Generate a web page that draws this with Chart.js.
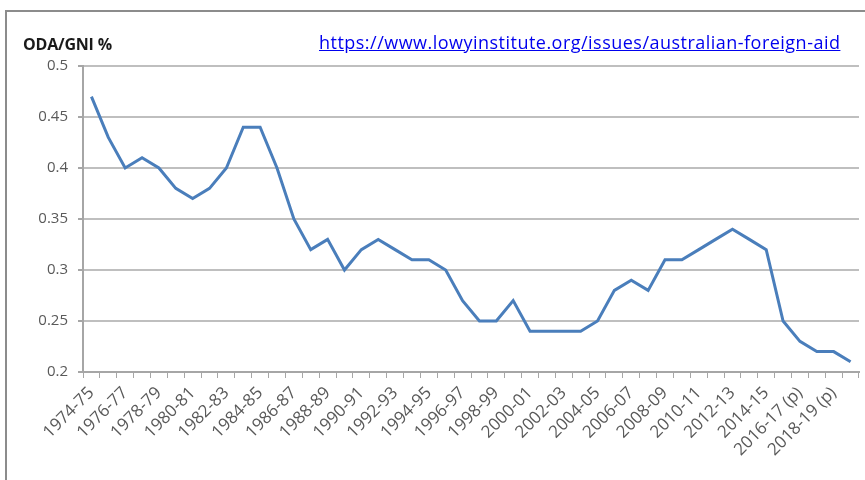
<!DOCTYPE html>
<html>
<head>
<meta charset="utf-8">
<script src="https://cdn.jsdelivr.net/npm/chart.js@4"></script>
<style>
  html, body { margin: 0; padding: 0; background: #fff; }
  #wrap { position: relative; width: 865px; height: 480px; overflow: hidden; }
  #frame { position: absolute; left: 5px; top: 10px; width: 900px; height: 500px;
           border-left: 2px solid #8c8c8c; border-top: 2px solid #8c8c8c; }
  #title { position: absolute; left: 23px; top: 33px; font: bold 16px "Open Sans", "Liberation Sans", sans-serif;
           color: #1a1a1a; letter-spacing: -0.2px; }
  #link { position: absolute; left: 319px; top: 30px; font: 18px "Open Sans", "Liberation Sans", sans-serif;
          color: #0000ee; text-decoration: underline; letter-spacing: 0.48px; }
  canvas { position: absolute; left: 0; top: 0; }
</style>
</head>
<body>
<div id="wrap">
  <div id="frame"></div>
  <canvas id="Chart0" width="865" height="480"></canvas>
  <div id="title">ODA/GNI %</div>
  <a id="link" href="https://www.lowyinstitute.org/issues/australian-foreign-aid">https://www.lowyinstitute.org/issues/australian-foreign-aid</a>
</div>
<script>
var years = ['1974-75','1975-76','1976-77','1977-78','1978-79','1979-80','1980-81','1981-82',
  '1982-83','1983-84','1984-85','1985-86','1986-87','1987-88','1988-89','1989-90','1990-91',
  '1991-92','1992-93','1993-94','1994-95','1995-96','1996-97','1997-98','1998-99','1999-00',
  '2000-01','2001-02','2002-03','2003-04','2004-05','2005-06','2006-07','2007-08','2008-09',
  '2009-10','2010-11','2011-12','2012-13','2013-14','2014-15','2015-16','2016-17 (p)',
  '2017-18 (p)','2018-19 (p)','2019-20 (p)'];

var odaGni = [0.47,0.43,0.40,0.41,0.40,0.38,0.37,0.38,0.40,0.44,0.44,0.40,0.35,0.32,0.33,0.30,
  0.32,0.33,0.32,0.31,0.31,0.30,0.27,0.25,0.25,0.27,0.24,0.24,0.24,0.24,0.25,0.28,0.29,0.28,
  0.31,0.31,0.32,0.33,0.34,0.33,0.32,0.25,0.23,0.22,0.22,0.21];

var yTicks = [0.2, 0.25, 0.3, 0.35, 0.4, 0.45, 0.5];

var axisColor = '#a6a6a6';
var labelColor = '#595959';

var ctx = document.getElementById('Chart0').getContext('2d');

var chart = new Chart(ctx, {
    type: 'line',
    data: {
        labels: years,
        datasets: [{
            label: 'ODA/GNI %',
            data: odaGni,
            borderColor: '#4a7ebb',
            backgroundColor: '#4a7ebb',
            borderWidth: 3,
            pointRadius: 0,
            tension: 0,
            fill: false
        }]
    },
    options: {
        responsive: false,
        animation: false,
        layout: { padding: { left: 0, right: 6, top: 66, bottom: 0 } },
        plugins: { legend: { display: false }, tooltip: { enabled: false } },
        scales: {
            x: {
                type: 'category',
                offset: true,
                grid: {
                    offset: true,
                    drawOnChartArea: false,
                    drawTicks: true,
                    tickLength: 6,
                    color: axisColor
                },
                border: { display: true, color: axisColor, width: 2 },
                ticks: {
                    autoSkip: false,
                    minRotation: 45,
                    maxRotation: 45,
                    padding: 5,
                    color: labelColor,
                    font: { family: '"Open Sans", "Liberation Sans", sans-serif', size: 17 },
                    callback: function (val, i) { return i % 2 === 0 ? this.getLabelForValue(val) : ''; }
                },
                afterFit: function (scale) {
                    scale.height = 108;
                    scale.paddingLeft = 0;
                    scale.paddingRight = 0;
                }
            },
            y: {
                min: 0.2,
                max: 0.5,
                afterBuildTicks: function (scale) {
                    scale.ticks = yTicks.map(function (v) { return { value: v }; });
                },
                grid: {
                    color: '#bfbfbf',
                    lineWidth: 2,
                    tickLength: 5,
                    tickColor: axisColor
                },
                border: { display: true, color: axisColor, width: 2 },
                ticks: {
                    padding: 10,
                    color: labelColor,
                    font: { family: '"Open Sans", "Liberation Sans", sans-serif', size: 15 },
                    callback: function (v) { return String(+v.toFixed(2)); }
                },
                afterFit: function (scale) { scale.width = 83; }
            }
        }
    }
});
</script>
</body>
</html>
